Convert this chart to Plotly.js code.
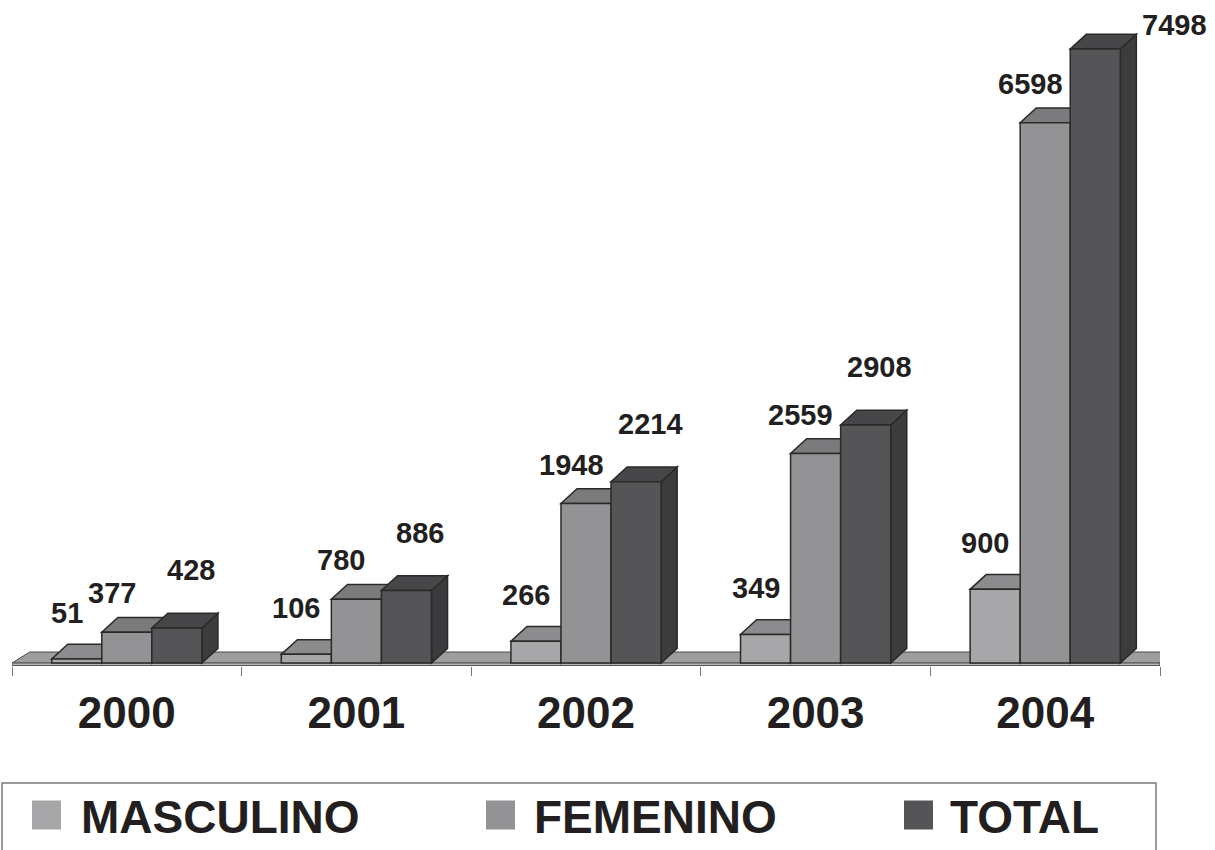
<!DOCTYPE html>
<html>
<head>
<meta charset="utf-8">
<script src="https://cdn.plot.ly/plotly-3.0.1.min.js"></script>
<style>html,body{margin:0;padding:0;background:#fff;}#chart{width:1215px;height:850px;}</style>
</head>
<body>
<div id="chart"></div>
<script>
// ---- data ----
const years = ['2000', '2001', '2002', '2003', '2004'];
const masculino = [51, 106, 266, 349, 900];
const femenino = [377, 780, 1948, 2559, 6598];
const total = [428, 886, 2214, 2908, 7498];
const seriesNames = ['MASCULINO', 'FEMENINO', 'TOTAL'];

// ---- style / layout constants ----
const W = 1215, H = 850;
const M = {l: 12, r: 55, t: 8, b: 184};
const Y_RANGE = [-36, 8000];
const FONT = 'Liberation Sans, Arial, Helvetica, sans-serif';
const INK = '#231f20';
const EDGE = '#2a2a2a';
const frontColors = ['#a7a7a9', '#939396', '#555558'];
const topColors = ['#8c8c8f', '#7b7b7e', '#47474a'];
const sideColors = ['#77777a', '#68686b', '#3c3c3f'];
const BARGAP = 0.346;
const DEPTH_X = 0.07;   // depth offset in category units
const DEPTH_Y = 180;    // depth offset in value units
const FLOOR_T = 30;     // floor thickness in value units
const labelShift = [[-10, 46], [-15, 39], [14, 58]];

const PW = W - M.l - M.r, PH = H - M.t - M.b;
const pxPerUnit = PH / (Y_RANGE[1] - Y_RANGE[0]);
const pxX = px => (px - M.l) / PW;
const pxY = py => (H - M.b - py) / PH;

const xs = years.map((_, i) => i);
const allSeries = [masculino, femenino, total];
const barW = (1 - BARGAP) / 3;
const offsets = [-barW, 0, barW];

const traces = allSeries.map((vals, s) => ({
  type: 'bar',
  name: seriesNames[s],
  x: xs,
  y: vals,
  showlegend: false,
  marker: {color: frontColors[s], line: {color: EDGE, width: 1.5}},
  hovertemplate: '%{y}<extra>' + seriesNames[s] + '</extra>'
}));

const shapes = [];
const fx0 = -0.5, fx1 = xs.length - 0.5, fdy = DEPTH_Y * 0.75, fdx = DEPTH_X * 1.1;
// floor top
shapes.push({
  type: 'path', xref: 'x', yref: 'y', layer: 'below',
  path: `M${fx0},0 L${fx1},0 L${fx1 + fdx},${fdy} L${fx0 + fdx},${fdy} Z`,
  fillcolor: '#9e9ea0', line: {color: '#4a4a4a', width: 1}
});
// floor front edge
shapes.push({
  type: 'path', xref: 'x', yref: 'y', layer: 'below',
  path: `M${fx0},0 L${fx1},0 L${fx1},${-FLOOR_T} L${fx0},${-FLOOR_T} Z`,
  fillcolor: '#b8b8ba', line: {color: '#555', width: 1}
});
// floor right edge
shapes.push({
  type: 'path', xref: 'x', yref: 'y', layer: 'below',
  path: `M${fx1},0 L${fx1 + fdx},${fdy} L${fx1 + fdx},${fdy - FLOOR_T} L${fx1},${-FLOOR_T} Z`,
  fillcolor: '#b8b8ba', line: {color: '#555', width: 1}
});

xs.forEach((xi, i) => {
  allSeries.forEach((vals, s) => {
    const v = vals[i];
    const xl = xi + offsets[s] - barW / 2;
    const xr = xi + offsets[s] + barW / 2;
    shapes.push({
      type: 'path', xref: 'x', yref: 'y', layer: 'below',
      path: `M${xr},0 L${xr},${v} L${xr + DEPTH_X},${v + DEPTH_Y} L${xr + DEPTH_X},${DEPTH_Y} Z`,
      fillcolor: sideColors[s], line: {color: EDGE, width: 1.5}
    });
    shapes.push({
      type: 'path', xref: 'x', yref: 'y', layer: 'below',
      path: `M${xl},${v} L${xr},${v} L${xr + DEPTH_X},${v + DEPTH_Y} L${xl + DEPTH_X},${v + DEPTH_Y} Z`,
      fillcolor: topColors[s], line: {color: EDGE, width: 1.5}
    });
  });
});

const annotations = [];
xs.forEach((xi, i) => {
  allSeries.forEach((vals, s) => {
    const v = vals[i];
    const topPx = M.t + (Y_RANGE[1] - v) * pxPerUnit;
    let ann = {
      x: xi + offsets[s], y: v, xref: 'x', yref: 'y',
      text: String(v), showarrow: false,
      xanchor: 'center', yanchor: 'middle',
      xshift: labelShift[s][0], yshift: labelShift[s][1],
      font: {family: FONT, size: 29, weight: 700, color: INK}
    };
    if (topPx - labelShift[s][1] < 22) {
      // not enough room above: put the label beside the bar
      ann.x = xi + offsets[s] + barW / 2 + DEPTH_X;
      ann.xanchor = 'left';
      ann.xshift = 4;
      ann.yshift = 24;
    }
    annotations.push(ann);
  });
});

// legend drawn as a framed row of swatches and labels
const legendBox = {x0: 2, x1: 1156, y0: 783, y1: 900};
const legendSwatchX = [32, 486, 904];
const legendTextX = [79, 532, 948];
const legendSwatch = 29, legendCy = 815;
shapes.push({
  type: 'rect', xref: 'paper', yref: 'paper', layer: 'above',
  x0: pxX(legendBox.x0), x1: pxX(legendBox.x1), y0: pxY(legendBox.y1), y1: pxY(legendBox.y0),
  fillcolor: 'rgba(0,0,0,0)', line: {color: '#7a7a7a', width: 1.5}
});
seriesNames.forEach((name, s) => {
  shapes.push({
    type: 'rect', xref: 'paper', yref: 'paper', layer: 'above',
    x0: pxX(legendSwatchX[s]), x1: pxX(legendSwatchX[s] + legendSwatch),
    y0: pxY(legendCy + legendSwatch / 2), y1: pxY(legendCy - legendSwatch / 2),
    fillcolor: frontColors[s], line: {width: 0}
  });
  annotations.push({
    xref: 'paper', yref: 'paper', x: pxX(legendTextX[s]), y: pxY(legendCy + 2),
    xanchor: 'left', yanchor: 'middle', showarrow: false, text: name,
    font: {family: FONT, size: 46, weight: 700, color: INK}
  });
});

const layout = {
  width: W, height: H,
  margin: M,
  paper_bgcolor: '#ffffff', plot_bgcolor: '#ffffff',
  barmode: 'group', bargap: BARGAP, bargroupgap: 0,
  showlegend: false,
  xaxis: {
    range: [-0.5, xs.length - 0.5], tickmode: 'array', tickvals: xs, ticktext: years,
    ticks: '', showgrid: false, zeroline: false, showline: false, automargin: false,
    tickfont: {family: FONT, size: 44, weight: 700, color: INK},
    ticklabelstandoff: 17,
    minor: {tickmode: 'array', tickvals: xs.map(x => x - 0.5).concat([xs.length - 0.5]), ticks: 'outside',
            ticklen: 9, tickwidth: 1, tickcolor: '#777', showgrid: false}
  },
  yaxis: {range: Y_RANGE, visible: false, showgrid: false, zeroline: false, automargin: false},
  shapes: shapes,
  annotations: annotations,
  font: {family: FONT, color: INK}
};

Plotly.newPlot('chart', traces, layout, {displayModeBar: false, responsive: false});
</script>
</body>
</html>
